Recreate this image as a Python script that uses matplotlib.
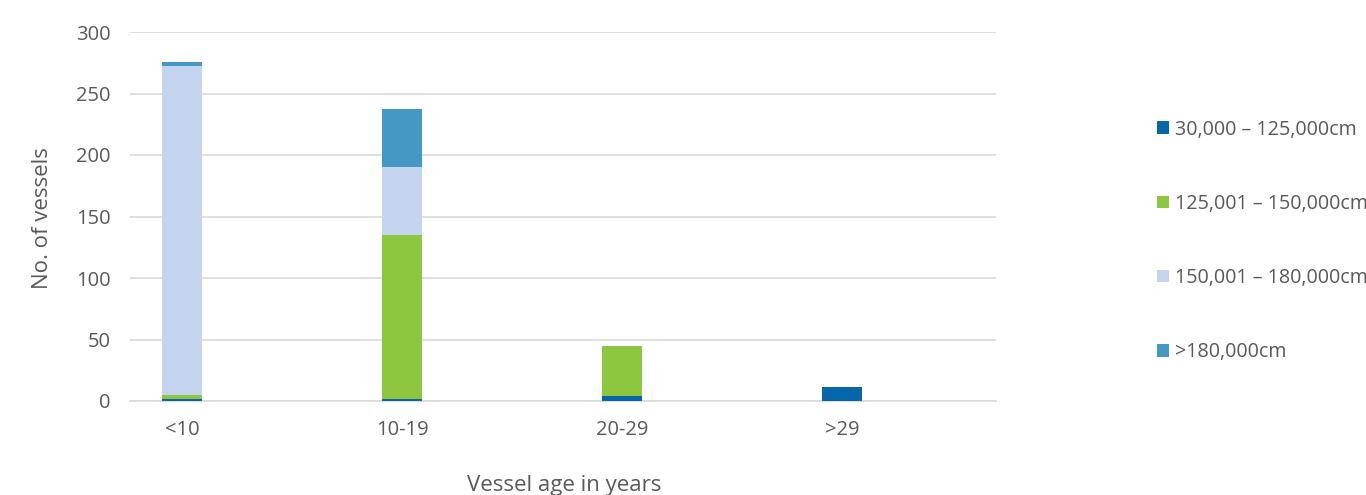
import matplotlib
matplotlib.use("Agg")
import matplotlib.pyplot as plt
import numpy as np

plt.rcParams['font.family'] = ['Open Sans', 'DejaVu Sans']

categories = ["<10", "10-19", "20-29", ">29"]
series_names = ["30,000 – 125,000cm", "125,001 – 150,000cm", "150,001 – 180,000cm", ">180,000cm"]
s1 = [2, 2, 4, 11]
s2 = [3, 133, 41, 0]
s3 = [267, 55, 0, 0]
s4 = [4, 47, 0, 0]
yticks = [0, 50, 100, 150, 200, 250, 300]
colors = ["#0567A9", "#8DC63F", "#C5D4EE", "#4498C4"]
text_color = "#595959"

fig = plt.figure(figsize=(13.66, 4.95), dpi=100)
ax = fig.add_axes([130/1366, 1-401/495, (996-130)/1366, (401-32)/495])

x = np.arange(len(categories))
bottom = np.zeros(len(categories))
handles = []
for vals, name, c in zip([s1, s2, s3, s4], series_names, colors):
    b = ax.bar(x, vals, width=0.18, bottom=bottom, color=c, label=name, zorder=3)
    handles.append(b)
    bottom += np.array(vals)

ax.set_ylim(0, 300)
ax.set_xlim(-52/220, (996-182)/220)
ax.set_yticks(yticks)
ax.set_xticks(x)
ax.set_xticklabels(categories)
ax.yaxis.grid(True, color="#D9D9D9", linewidth=1.2, zorder=0)
for s in ["top", "right", "left"]:
    ax.spines[s].set_visible(False)
ax.spines["bottom"].set_color("#D9D9D9")
ax.spines["bottom"].set_linewidth(1.2)
ax.tick_params(axis="both", length=0, labelsize=14.5, colors=text_color)
ax.tick_params(axis="y", pad=14)
ax.tick_params(axis="x", pad=14)

fig.text(42/1366, 1-218/495, "No. of vessels", rotation=90, ha="center", va="center",
         fontsize=16, color=text_color)
fig.text(564/1366, 1-485/495, "Vessel age in years", ha="center", va="center",
         fontsize=16, color=text_color)

leg = fig.legend(handles=handles, labels=series_names, loc="center left",
                 bbox_to_anchor=(1139/1366, 1-241/495), frameon=False,
                 fontsize=14.2, handlelength=0.6, handleheight=0.6, handletextpad=0.35,
                 labelspacing=2.75, labelcolor=text_color)

fig.savefig("out.png", dpi=100)
